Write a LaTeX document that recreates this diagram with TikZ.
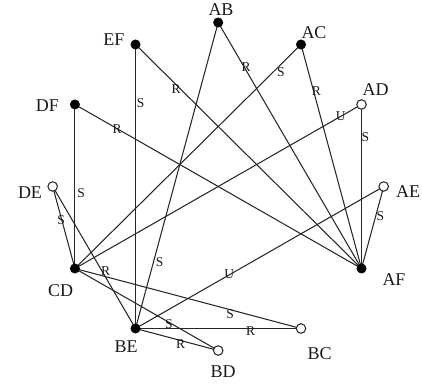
\documentclass[tikz,border=0pt]{standalone}
\usepackage{fontspec}
\setmainfont{Liberation Serif}
\usetikzlibrary{calc,backgrounds}
\begin{document}
\begin{tikzpicture}[x=1pt,y=1pt,
  edge/.style={draw=black!85, line width=1.05pt},
  full/.style={circle, fill=black, draw=black, inner sep=0pt, minimum size=9.5pt},
  hollow/.style={circle, fill=white, draw=black!85, line width=1.05pt, inner sep=0pt, minimum size=9.5pt},
  vname/.style={font=\fontsize{18}{18}\selectfont, inner sep=0pt, text=black!90},
  lbl/.style={font=\fontsize{13.5}{13.5}\selectfont, inner sep=0pt, text=black!90}]
\useasboundingbox (0,0) rectangle (422,387);
% vertices
\node[full]   (AB) at (218.2,364.5) {};
\node[full]   (AC) at (301.0,342.5) {};
\node[hollow] (AD) at (361.5,282.5) {};
\node[hollow] (AE) at (383.7,200.5) {};
\node[full]   (AF) at (361.5,118.5) {};
\node[hollow] (BC) at (301.0,58.5) {};
\node[hollow] (BD) at (218.2,36.5) {};
\node[full]   (BE) at (135.5,58.5) {};
\node[full]   (CD) at (74.9,118.5) {};
\node[hollow] (DE) at (52.7,200.5) {};
\node[full]   (DF) at (74.9,282.5) {};
\node[full]   (EF) at (135.5,342.5) {};
% vertex names
\node[vname] (tAB) at ($(AB)+(2.8,13)$) {AB};
\node[vname] (tAC) at ($(AC)+(13,11.5)$) {AC};
\node[vname] (tAD) at ($(AD)+(14.2,14.5)$) {AD};
\node[vname] (tAE) at ($(AE)+(24.3,-5.2)$) {AE};
\node[vname] (tAF) at ($(AF)+(32.5,-11.5)$) {AF};
\node[vname] (tBC) at ($(BC)+(18.7,-25.5)$) {BC};
\node[vname] (tBD) at ($(BD)+(4.8,-21.5)$) {BD};
\node[vname] (tBE) at ($(BE)+(-9.5,-18.2)$) {BE};
\node[vname] (tCD) at ($(CD)+(-14.2,-22.2)$) {CD};
\node[vname] (tDE) at ($(DE)+(-22.7,-6)$) {DE};
\node[vname] (tDF) at ($(DF)+(-27.4,-1.2)$) {DF};
\node[vname] (tEF) at ($(EF)+(-21.5,4.5)$) {EF};
% edges
\begin{scope}[on background layer]
\draw[edge] (EF.center) -- node[lbl,pos=0.206,xshift=5.2pt] {S} (BE.center);
\draw[edge] (EF.center) -- node[lbl,pos=0.18,yshift=-3.8pt] {R} (AF.center);
\draw[edge] (AB.center) -- node[lbl,pos=0.18,xshift=2.2pt] {R} (AF.center);
\draw[edge] (AC.center) -- node[lbl,pos=0.123,xshift=7.6pt] {S} (CD.center);
\draw[edge] (AC.center) -- node[lbl,pos=0.206,xshift=2.8pt] {R} (AF.center);
\draw[edge] (AD.center) -- node[lbl,pos=0.072,yshift=0.5pt] {U} (CD.center);
\draw[edge] (AD.center) -- node[lbl,pos=0.2,xshift=3.8pt] {S} (AF.center);
\draw[edge] (AE.center) -- node[lbl,pos=0.357,xshift=4.5pt] {S} (AF.center);
\draw[edge] (DF.center) -- node[lbl,pos=0.147,yshift=-0.9pt] {R} (AF.center);
\draw[edge] (DF.center) -- node[lbl,pos=0.538,xshift=6.3pt] {S} (CD.center);
\draw[edge] (DE.center) -- node[lbl,pos=0.412,xshift=-0.6pt] {S} (CD.center);
\draw[edge] (DE.center) -- node[lbl,pos=0.597,xshift=3.4pt] {R} (BE.center);
\draw[edge] (AB.center) -- node[lbl,pos=0.783,xshift=6.3pt] {S} (BE.center);
\draw[edge] (AE.center) -- node[lbl,pos=0.622,yshift=0.6pt] {U} (BE.center);
\draw[edge] (CD.center) -- node[lbl,pos=0.687,yshift=-4.1pt] {S} (BC.center);
\draw[edge] (CD.center) -- node[lbl,pos=0.655,yshift=-2pt] {S} (BD.center);
\draw[edge] (BE.center) -- node[lbl,pos=0.696,yshift=-2.8pt] {R} (BC.center);
\draw[edge] (BE.center) -- node[lbl,pos=0.547,yshift=-3.3pt] {R} (BD.center);
\end{scope}
\end{tikzpicture}
\end{document}
